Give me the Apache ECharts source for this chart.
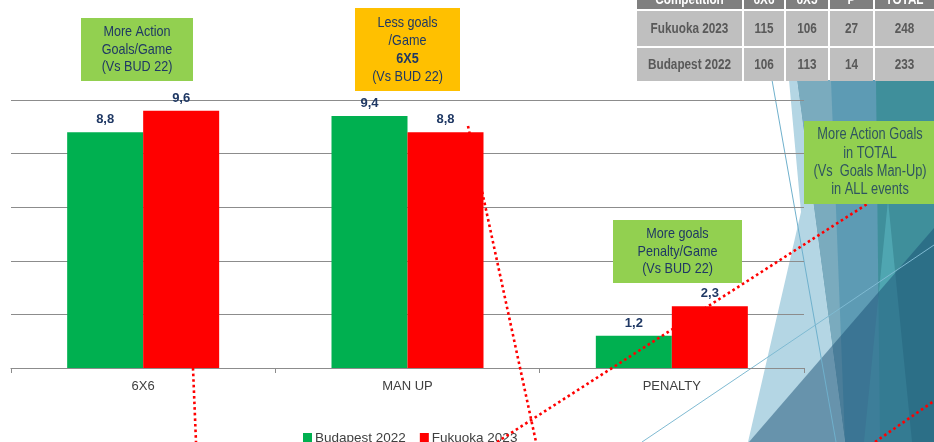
<!DOCTYPE html>
<html>
<head>
<meta charset="utf-8">
<script src="https://cdn.jsdelivr.net/npm/echarts@6/dist/echarts.min.js"></script>
<style>
html,body{margin:0;padding:0;background:#fff;}
#chart{width:934px;height:442px;}
</style>
</head>
<body>
<div id="chart"></div>
<script>
// ---- data ----
const categories = ['6X6', 'MAN UP', 'PENALTY'];
const seriesNames = ['Budapest 2022', 'Fukuoka 2023'];
const budapest2022 = [8.8, 9.4, 1.2];
const fukuoka2023 = [9.6, 8.8, 2.3];

const tableHeader = ['Competition', '6X6', '6X5', 'P', 'TOTAL'];
const tableRowFukuoka = ['Fukuoka 2023', '115', '106', '27', '248'];
const tableRowBudapest = ['Budapest 2022', '106', '113', '14', '233'];

const note6x6 = ['More Action', 'Goals/Game', '(Vs BUD 22)'];
const noteManUp = ['Less goals', '/Game', '6X5', '(Vs BUD 22)'];
const notePenalty = ['More goals', 'Penalty/Game', '(Vs BUD 22)'];
const noteTotal = ['More Action Goals', 'in TOTAL', '(Vs  Goals Man-Up)', 'in ALL events'];

// ---- styles ----
const FONT = "'Liberation Sans',Arial,sans-serif";
const navy = '#1F3864';
const fmt = p => String(p.value).replace('.', ',');

const chart = echarts.init(document.getElementById('chart'), null, {renderer: 'canvas'});

function narrowText(t, cx, cy, font, fill, z, sx) {
  return {type: 'text', z, x: cx, y: cy, scaleX: sx || 0.84,
    style: {text: t, x: 0, y: 0, textAlign: 'center', textVerticalAlign: 'middle', font, fill}};
}

function noteBox(x, y, w, h, fill, lines, color, size, lh, boldIdx, cx, sx) {
  const els = [{type: 'rect', z: 20, shape: {x, y, width: w, height: h}, style: {fill}}];
  const total = lines.length * lh;
  const y0 = y + h / 2 - total / 2 + lh / 2;
  lines.forEach((t, i) => {
    els.push(narrowText(t, cx != null ? cx : x + w / 2, y0 + i * lh,
      (i === boldIdx ? 'bold ' : '') + size + 'px ' + FONT, color, 21, sx));
  });
  return els;
}

function dotted(x1, y1, x2, y2, z) {
  return {type: 'line', z, shape: {x1, y1, x2, y2},
    style: {stroke: '#ff0000', lineWidth: 2.6, lineDash: [2.6, 3]}};
}

// table
const colX = [637, 742, 784, 828, 873, 934];
const rowY = [[-14, 9], [11, 46], [48, 81]];
const tableEls = [];
[tableHeader, tableRowFukuoka, tableRowBudapest].forEach((row, r) => {
  row.forEach((txt, c) => {
    const x = colX[c] + (c === 0 ? 0 : 2);
    const w = colX[c + 1] - x;
    tableEls.push({type: 'rect', z: 30,
      shape: {x, y: rowY[r][0], width: w, height: rowY[r][1] - rowY[r][0]},
      style: {fill: r === 0 ? '#7f7f7f' : '#bfbfbf'}});
    tableEls.push(narrowText(txt, x + w / 2, r === 0 ? 0 : (rowY[r][0] + rowY[r][1]) / 2 + 1,
      'bold 14px ' + FONT, r === 0 ? '#ffffff' : '#595959', 31, 0.84));
  });
});

// decoration (theme triangles)
const deco = [
  {type: 'polygon', z: -5, shape: {points: [[874, 80], [934, 80], [934, 442], [878, 442]]}, style: {fill: '#3f8f9b'}},
  {type: 'polygon', z: -5, shape: {points: [[797, 80], [876, 80], [880, 442], [845, 442]]}, style: {fill: '#5d9bb4'}},
  {type: 'polygon', z: -4, shape: {points: [[797, 80], [831, 80], [845, 442]]}, style: {fill: '#7aabbe'}},
  {type: 'polygon', z: -4, shape: {points: [[789, 80], [797, 80], [845, 442], [748, 442], [801, 212]]}, style: {fill: '#b4d6e4'}},
  {type: 'polygon', z: -3, shape: {points: [[888, 200], [864, 442], [912, 442]]}, style: {fill: 'rgba(100,195,205,0.45)'}},
  {type: 'polygon', z: -3, shape: {points: [[749, 442], [934, 228], [934, 442]]}, style: {fill: 'rgba(25,80,115,0.5)'}},
  {type: 'line', z: -2, shape: {x1: 772, y1: 80, x2: 836, y2: 442}, style: {stroke: '#6fb0cc', lineWidth: 1}},
  {type: 'line', z: -2, shape: {x1: 642, y1: 442, x2: 934, y2: 245}, style: {stroke: '#7fbad2', lineWidth: 1}}
];

const graphicEls = [].concat(
  deco,
  [dotted(193, 368, 196, 442, 1), dotted(468, 126, 536, 442, 1),
   dotted(497, 442, 934, 161, 12), dotted(875, 442, 934, 401, 12)],
  noteBox(81, 18, 112, 63, '#92D050', note6x6, navy, 15, 17.5, -1),
  noteBox(355, 8, 105, 83, '#FFC000', noteManUp, navy, 15, 18, 2),
  noteBox(613, 220, 129, 63, '#92D050', notePenalty, navy, 15, 17.5, -1),
  noteBox(804, 121, 150, 83, '#92D050', noteTotal, '#2f5560', 16, 18.3, -1, 870, 0.8),
  tableEls
);

const option = {
  animation: false,
  backgroundColor: '#ffffff',
  textStyle: {fontFamily: FONT},
  grid: {left: 11, right: 130, top: 100, bottom: 74, containLabel: false},
  legend: {
    data: seriesNames, left: 298, top: 426,
    itemWidth: 9, itemHeight: 10, itemGap: 14,
    icon: 'rect',
    textStyle: {fontFamily: FONT, fontSize: 13.5, color: '#404040', padding: [0, 0, 0, -2]}
  },
  xAxis: {
    type: 'category', data: categories,
    axisLine: {lineStyle: {color: '#8c8c8c', width: 1.2}},
    axisTick: {show: true, length: 5, lineStyle: {color: '#8c8c8c'}},
    axisLabel: {color: '#404040', fontSize: 13, fontFamily: FONT, margin: 12}
  },
  yAxis: {
    type: 'value', min: 0, max: 10, interval: 2,
    axisLabel: {show: false}, axisLine: {show: false}, axisTick: {show: false},
    splitLine: {lineStyle: {color: '#8c8c8c', width: 1.2}}
  },
  series: [
    {name: seriesNames[0], type: 'bar', data: budapest2022, barWidth: 76, barGap: '0%',
     itemStyle: {color: '#00B050'},
     label: {show: true, position: 'top', distance: 6, formatter: fmt,
       color: navy, fontWeight: 'bold', fontSize: 13, fontFamily: FONT}},
    {name: seriesNames[1], type: 'bar', data: fukuoka2023, barWidth: 76, barGap: '0%',
     itemStyle: {color: '#FF0000'},
     label: {show: true, position: 'top', distance: 6, formatter: fmt,
       color: navy, fontWeight: 'bold', fontSize: 13, fontFamily: FONT}}
  ],
  graphic: {elements: graphicEls}
};
chart.setOption(option);
</script>
</body>
</html>
